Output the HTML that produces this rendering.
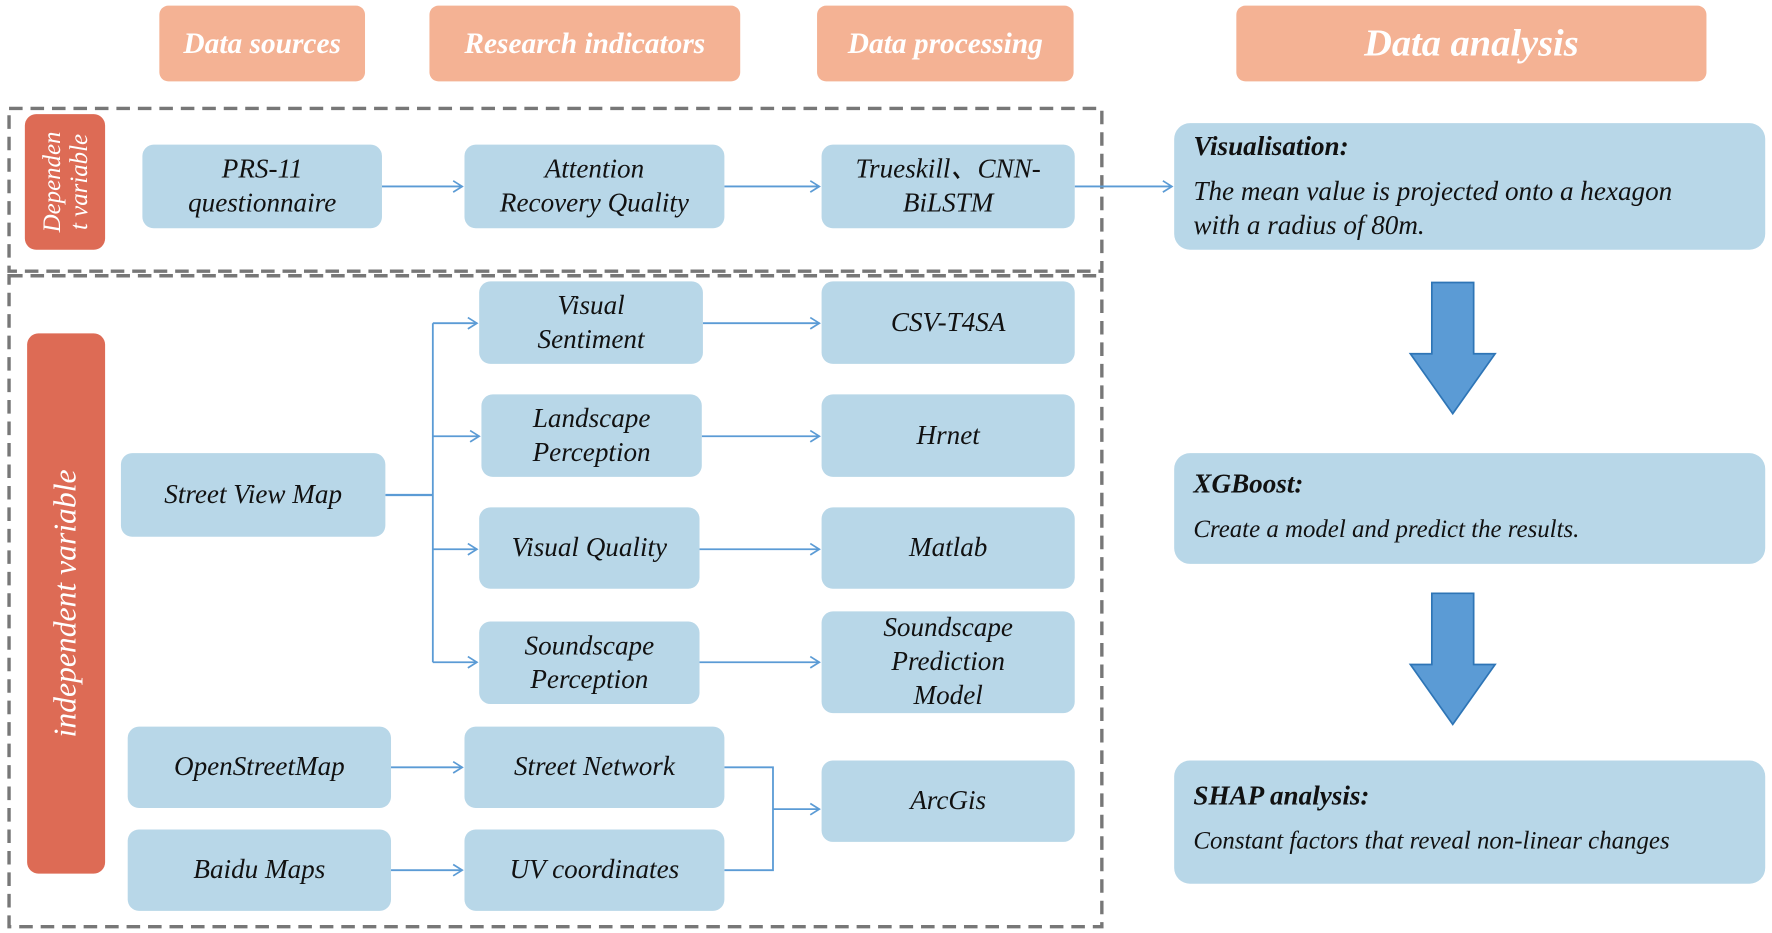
<!DOCTYPE html>
<html><head><style>
html,body{margin:0;padding:0;background:#fff;width:1772px;height:933px;overflow:hidden}
#w{position:absolute;left:0;top:0;width:1568px;height:826px;transform:scale(1.1301);transform-origin:0 0;font-family:"Liberation Serif",serif;font-style:italic}
.b{position:absolute;background:#b8d7e8;border-radius:10px;display:flex;align-items:center;justify-content:center;text-align:center;font-size:24px;line-height:30px;color:#111}
.h{position:absolute;background:#f4b294;border-radius:8px;display:flex;align-items:center;justify-content:center;color:#fff;font-weight:bold;font-size:26px}
.r{position:absolute;background:#dd6b55;border-radius:10px}
.r span{position:absolute;left:50%;top:50%;transform:translate(-50%,-50%) rotate(-90deg);color:#fff;white-space:nowrap;text-align:center}
.a{position:absolute;background:#b8d7e8;border-radius:14px;padding-left:17px;box-sizing:border-box;color:#111}
svg{position:absolute;left:0;top:0}
</style></head><body><div id="w">
<svg width="1568" height="826">
<defs><marker id="m" markerWidth="12" markerHeight="12" refX="10" refY="6" orient="auto" markerUnits="userSpaceOnUse"><path d="M2,1 L10,6 L2,11" fill="none" stroke="#5b9bd5" stroke-width="1.5"/></marker></defs>
<rect x="8" y="96" width="967" height="144" fill="none" stroke="#777" stroke-width="3" stroke-dasharray="12,7"/>
<rect x="8" y="244" width="967" height="576" fill="none" stroke="#777" stroke-width="3" stroke-dasharray="12,7"/>
<g stroke="#5b9bd5" stroke-width="1.6" fill="none">
<line x1="338" y1="165" x2="409" y2="165" marker-end="url(#m)"/>
<line x1="641" y1="165" x2="725" y2="165" marker-end="url(#m)"/>
<line x1="951" y1="165" x2="1037" y2="165" marker-end="url(#m)"/>
<line x1="341" y1="438" x2="383" y2="438" stroke-width="2"/>
<line x1="383" y1="286" x2="383" y2="586"/>
<line x1="383" y1="286" x2="422" y2="286" marker-end="url(#m)"/>
<line x1="383" y1="386" x2="424" y2="386" marker-end="url(#m)"/>
<line x1="383" y1="486" x2="422" y2="486" marker-end="url(#m)"/>
<line x1="383" y1="586" x2="422" y2="586" marker-end="url(#m)"/>
<line x1="622" y1="286" x2="725" y2="286" marker-end="url(#m)"/>
<line x1="621" y1="386" x2="725" y2="386" marker-end="url(#m)"/>
<line x1="619" y1="486" x2="725" y2="486" marker-end="url(#m)"/>
<line x1="619" y1="586" x2="725" y2="586" marker-end="url(#m)"/>
<line x1="346" y1="679" x2="409" y2="679" marker-end="url(#m)"/>
<line x1="346" y1="770" x2="409" y2="770" marker-end="url(#m)"/>
<polyline points="641,679 684,679 684,770 641,770"/>
<line x1="684" y1="716" x2="725" y2="716" marker-end="url(#m)"/>
</g>
<path d="M1267,250 H1304 V313 H1323 L1285.5,366 L1248,313 H1267 Z" fill="#5b9bd5" stroke="#2e75b6" stroke-width="1.5"/>
<path d="M1267,525 H1304 V588 H1323 L1285.5,641 L1248,588 H1267 Z" fill="#5b9bd5" stroke="#2e75b6" stroke-width="1.5"/>
</svg>
<div class="h" style="left:141px;top:5px;width:182px;height:67px">Data sources</div>
<div class="h" style="left:380px;top:5px;width:275px;height:67px">Research indicators</div>
<div class="h" style="left:723px;top:5px;width:227px;height:67px">Data processing</div>
<div class="h" style="left:1094px;top:5px;width:416px;height:67px;font-size:34px">Data analysis</div>
<div class="r" style="left:22px;top:101px;width:71px;height:120px"><span style="font-size:22px;line-height:24px">Dependen<br>t variable</span></div>
<div class="r" style="left:24px;top:295px;width:69px;height:478px"><span style="font-size:28px">independent variable</span></div>
<div class="b" style="left:126px;top:128px;width:212px;height:74px">PRS-11<br>questionnaire</div>
<div class="b" style="left:411px;top:128px;width:230px;height:74px">Attention<br>Recovery Quality</div>
<div class="b" style="left:727px;top:128px;width:224px;height:74px">Trueskill、CNN-<br>BiLSTM</div>
<div class="b" style="left:424px;top:249px;width:198px;height:73px">Visual<br>Sentiment</div>
<div class="b" style="left:727px;top:249px;width:224px;height:73px">CSV-T4SA</div>
<div class="b" style="left:426px;top:349px;width:195px;height:73px">Landscape<br>Perception</div>
<div class="b" style="left:727px;top:349px;width:224px;height:73px">Hrnet</div>
<div class="b" style="left:107px;top:401px;width:234px;height:74px">Street View Map</div>
<div class="b" style="left:424px;top:449px;width:195px;height:72px">Visual Quality</div>
<div class="b" style="left:727px;top:449px;width:224px;height:72px">Matlab</div>
<div class="b" style="left:424px;top:550px;width:195px;height:73px">Soundscape<br>Perception</div>
<div class="b" style="left:727px;top:541px;width:224px;height:90px">Soundscape<br>Prediction<br>Model</div>
<div class="b" style="left:113px;top:643px;width:233px;height:72px">OpenStreetMap</div>
<div class="b" style="left:411px;top:643px;width:230px;height:72px">Street Network</div>
<div class="b" style="left:727px;top:673px;width:224px;height:72px">ArcGis</div>
<div class="b" style="left:113px;top:734px;width:233px;height:72px">Baidu Maps</div>
<div class="b" style="left:411px;top:734px;width:230px;height:72px">UV coordinates</div>
<div class="a" style="left:1039px;top:109px;width:523px;height:112px;padding-top:6px;padding-right:30px"><div style="font-weight:bold;font-size:24px;line-height:30px">Visualisation:</div><div style="font-size:24px;line-height:30px;margin-top:10px">The mean value is projected onto a hexagon<br>with a radius of 80m.</div></div>
<div class="a" style="left:1039px;top:401px;width:523px;height:98px;padding-top:13px"><div style="font-weight:bold;font-size:24px;line-height:30px">XGBoost:</div><div style="font-size:22px;line-height:28px;margin-top:10px">Create a model and predict the results.</div></div>
<div class="a" style="left:1039px;top:673px;width:523px;height:109px;padding-top:17px"><div style="font-weight:bold;font-size:24px;line-height:30px">SHAP analysis:</div><div style="font-size:22px;line-height:28px;margin-top:10px">Constant factors that reveal non-linear changes</div></div>
</div></body></html>
